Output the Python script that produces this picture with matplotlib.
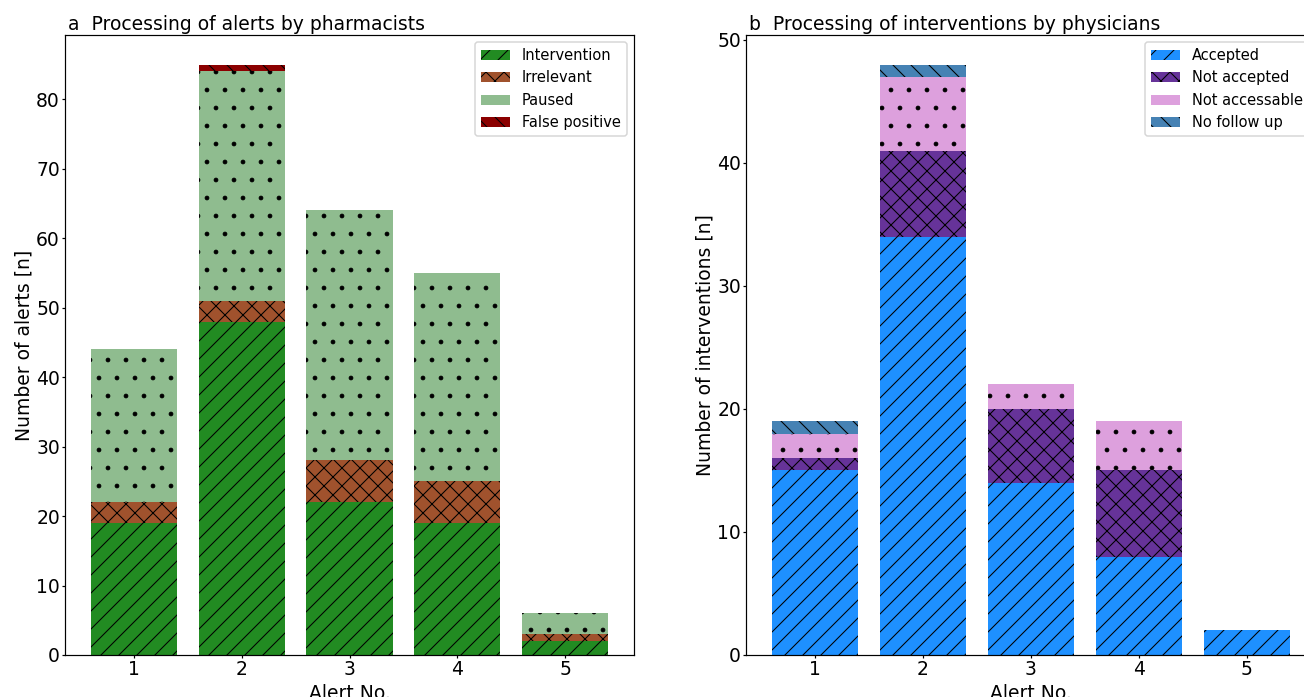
import matplotlib
matplotlib.use("Agg")
import matplotlib.pyplot as plt
import numpy as np

alerts = [1, 2, 3, 4, 5]

# Panel a: processing of alerts by pharmacists
intervention = [19, 48, 22, 19, 2]
irrelevant = [3, 3, 6, 6, 1]
paused = [22, 33, 36, 30, 3]
false_positive = [0, 1, 0, 0, 0]

# Panel b: processing of interventions by physicians
accepted = [15, 34, 14, 8, 2]
not_accepted = [1, 7, 6, 7, 0]
not_accessable = [2, 6, 2, 4, 0]
no_follow_up = [1, 1, 0, 0, 0]

FS = 12.5
LFS = 9.75
plt.rcParams['font.family'] = ['DejaVu Sans']
plt.rcParams['hatch.linewidth'] = 0.7

DPI = 108
W, H = 1304, 697
fig = plt.figure(figsize=(W / DPI, H / DPI), dpi=DPI)
ax1 = fig.add_axes([65 / W, (H - 655) / H, (634 - 65) / W, (655 - 35) / H])
ax2 = fig.add_axes([746 / W, (H - 655) / H, (1316 - 746) / W, (655 - 35) / H])


def stacked(ax, series, labels, colors, hatches):
    bottom = np.zeros(len(alerts))
    for vals, lab, col, hat in zip(series, labels, colors, hatches):
        ax.bar(alerts, vals, width=0.8, bottom=bottom, color=col, hatch=hat,
               linewidth=0, label=lab)
        bottom = bottom + np.array(vals)


stacked(ax1, [intervention, irrelevant, paused, false_positive],
        ['Intervention', 'Irrelevant', 'Paused', 'False positive'],
        ['forestgreen', 'sienna', 'darkseagreen', 'darkred'],
        ['//', 'xx', '.', '\\\\'])
stacked(ax2, [accepted, not_accepted, not_accessable, no_follow_up],
        ['Accepted', 'Not accepted', 'Not accessable', 'No follow up'],
        ['dodgerblue', 'rebeccapurple', 'plum', 'steelblue'],
        ['//', 'xx', '.', '\\\\'])

ax1.set_title('a  Processing of alerts by pharmacists', loc='left', fontsize=FS, pad=3, x=0.006)
ax2.set_title('b  Processing of interventions by physicians', loc='left', fontsize=FS, pad=3, x=0.006)
ax1.set_ylabel('Number of alerts [n]', fontsize=FS, labelpad=1.5)
ax2.set_ylabel('Number of interventions [n]', fontsize=FS, labelpad=1.5)
for ax in (ax1, ax2):
    ax.set_xlabel('Alert No.', fontsize=FS, labelpad=3)
    ax.set_xticks(alerts)
    ax.tick_params(labelsize=FS, length=2.2, pad=1.2)
    ax.legend(loc='upper right', fontsize=LFS)

fig.savefig('out.png', dpi=DPI)
